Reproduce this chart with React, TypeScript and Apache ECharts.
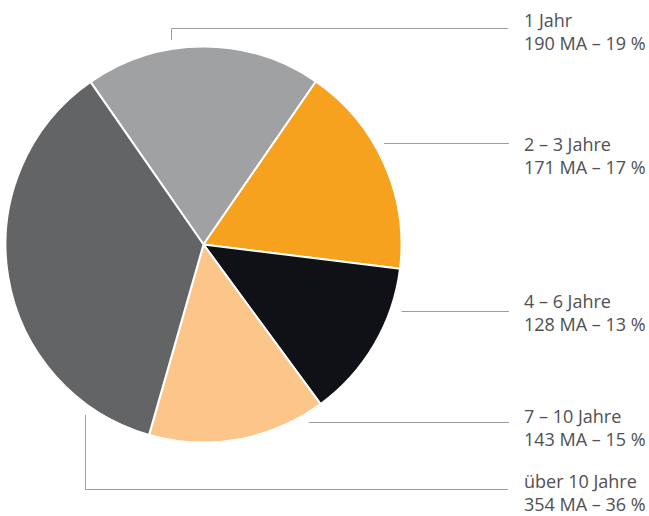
import React, { useEffect, useRef } from "react";
import * as echarts from "echarts";

const categories = ["1 Jahr", "2 – 3 Jahre", "4 – 6 Jahre", "7 – 10 Jahre", "über 10 Jahre"];
const employees = [190, 171, 128, 143, 354];
const percents = [19, 17, 13, 15, 36];
const colors = ["#A0A1A3", "#F7A21F", "#101017", "#FCC68A", "#636466"];

// label placement (pixels)
const labelX = 524;
const labelTops = [8, 132, 289, 404, 469];
const leaderLines: number[][][] = [
  [[171.5, 40], [171.5, 28.5], [508, 28.5]],
  [[384, 143.5], [446, 143.5], [509, 143.5]],
  [[401.5, 311.5], [455, 311.5], [509, 311.5]],
  [[309, 422.5], [409, 422.5], [509, 422.5]],
  [[85.5, 415], [85.5, 489.5], [508, 489.5]],
];

export default function App() {
  const ref = useRef<HTMLDivElement>(null);
  useEffect(() => {
    document.body.style.margin = "0";
    const chart = echarts.init(ref.current!, null, { renderer: "svg" });
    chart.setOption({
      animation: false,
      backgroundColor: "#ffffff",
      series: [
        {
          type: "pie",
          center: [203.5, 244.5],
          radius: 198,
          startAngle: 124.8,
          clockwise: true,
          avoidLabelOverlap: false,
          itemStyle: { borderColor: "#ffffff", borderWidth: 2 },
          label: {
            show: true,
            position: "outside",
            color: "#505052",
            fontFamily: "Open Sans",
            fontSize: 18,
            lineHeight: 23.5,
            formatter: (p: any) => `${p.name}\n${p.value} MA – ${percents[p.dataIndex]} %`,
          },
          labelLine: {
            show: true,
            smooth: false,
            lineStyle: { color: "#9D9EA0", width: 1 },
          },
          labelLayout: (params: any) => ({
            x: labelX,
            y: labelTops[params.dataIndex],
            align: "left",
            verticalAlign: "top",
            labelLinePoints: leaderLines[params.dataIndex],
          }),
          emphasis: { disabled: true },
          data: categories.map((name, i) => ({
            name,
            value: employees[i],
            itemStyle: { color: colors[i] },
          })),
        },
      ],
    });
    return () => chart.dispose();
  }, []);
  return <div ref={ref} style={{ width: 649, height: 516 }} />;
}
